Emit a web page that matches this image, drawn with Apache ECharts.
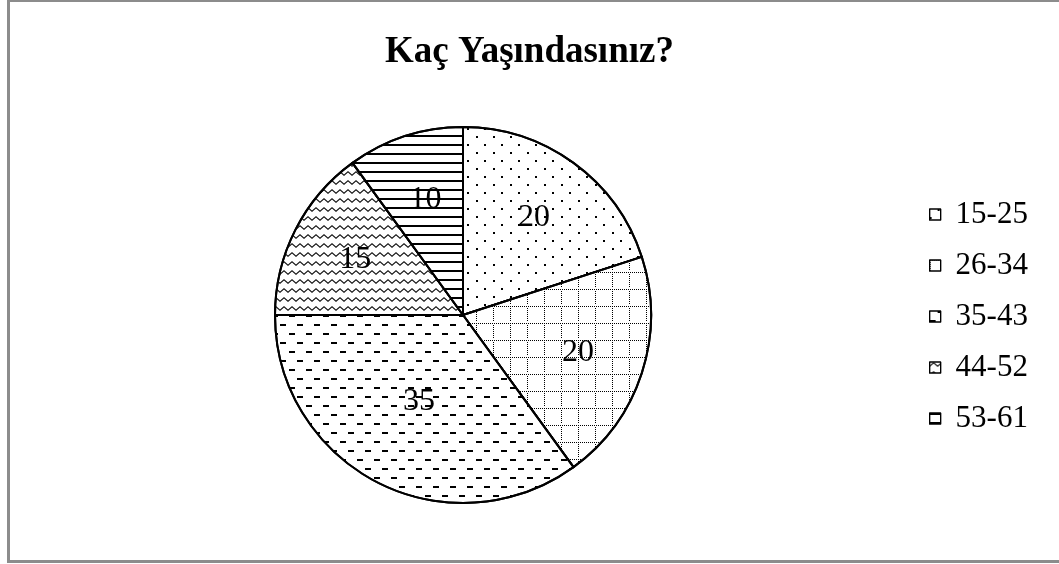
<!DOCTYPE html>
<html>
<head>
<meta charset="utf-8">
<script src="https://cdn.jsdelivr.net/npm/echarts@6/dist/echarts.min.js"></script>
<style>
  html, body { margin: 0; padding: 0; background: #fff; }
  #wrap { position: relative; width: 1059px; height: 564px; overflow: hidden; }
  #chart { position: absolute; left: 0; top: 0; width: 1059px; height: 564px; }
  #frame { position: absolute; left: 7px; top: -1px; width: 1100px; height: 558px; border: 3px solid #8c8c8c; pointer-events: none; }
</style>
</head>
<body>
<div id="wrap">
  <div id="chart"></div>
  <div id="frame"></div>
</div>
<script>
// veriler
const titleText = 'Kaç Yaşındasınız?'
const categories = ['15-25', '26-34', '35-43', '44-52', '53-61']
const values = [20, 20, 35, 15, 10]

const serif = '"Liberation Serif", "Times New Roman", serif'

// her dilim icin desen (Excel benzeri)
const decals = [
  // noktali
  { symbol: 'rect', symbolSize: 1, color: '#000', dashArrayX: [[2, 15], [0, 8, 2, 7]], dashArrayY: [2, 6] },
  // noktali kafes
  {
    symbol: 'rect', symbolSize: 1, color: '#000',
    dashArrayX: [[1, 1], [1, 16], [1, 16], [1, 16], [1, 16], [1, 16], [1, 16], [1, 16]],
    dashArrayY: [1, 1, 1, 1, 1, 1, 1, 1, 1, 1, 1, 1, 1, 1, 1, 2]
  },
  // kesik cizgiler
  { symbol: 'rect', symbolSize: 1, color: '#000', dashArrayX: [[6, 11], [0, 8, 6, 3]], dashArrayY: [1.5, 6.5] },
  // dalga
  {
    symbol: 'path://M0,3.2 L4,0 L8,3.2 L8,4.6 L4,1.4 L0,4.6 Z', symbolSize: 1, symbolKeepAspect: false,
    color: '#111', dashArrayX: [8, 0], dashArrayY: [4.5, 4]
  },
  // yatay cizgiler
  { symbol: 'rect', symbolSize: 1, color: '#000', dashArrayX: [[1, 0], [1, 0]], dashArrayY: [1.6, 6.9] }
]

const pieData = categories.map((name, i) => ({
  name: name,
  value: values[i],
  itemStyle: { color: '#fff', decal: decals[i] },
  // sadece 35 dilimin etiketi burada (merkeze daha yakin)
  label: { show: i === 2 }
}))

const labelData = categories.map((name, i) => ({
  name: name,
  value: values[i],
  label: { show: i !== 2 }
}))

const labelStyle = {
  position: 'inside',
  formatter: '{c}',
  color: '#000',
  fontFamily: serif,
  fontSize: 32
}

const chart = echarts.init(document.getElementById('chart'), null, { renderer: 'canvas' })
chart.setOption({
  animation: false,
  backgroundColor: '#fff',
  title: {
    text: titleText,
    left: 'center',
    top: 29,
    textStyle: { fontFamily: serif, fontSize: 37, fontWeight: 'bold', color: '#000' }
  },
  legend: {
    orient: 'vertical',
    left: 924,
    top: 194,
    itemWidth: 11,
    itemHeight: 11,
    itemGap: 20,
    data: categories,
    icon: 'rect',
    itemStyle: { borderColor: '#000', borderWidth: 1.2 },
    textStyle: { fontFamily: serif, fontSize: 31, color: '#000', padding: [0, 0, 0, 10] }
  },
  series: [
    {
      type: 'pie',
      center: [463, 315],
      radius: 188,
      startAngle: 90,
      clockwise: true,
      silent: true,
      label: labelStyle,
      labelLine: { show: false },
      itemStyle: { borderColor: '#000', borderWidth: 2 },
      emphasis: { disabled: true },
      data: pieData
    },
    {
      // etiket katmani
      type: 'pie',
      center: [463, 315],
      radius: [48, 188],
      startAngle: 90,
      clockwise: true,
      silent: true,
      label: labelStyle,
      labelLine: { show: false },
      itemStyle: { color: 'rgba(0,0,0,0)', borderWidth: 0 },
      emphasis: { disabled: true },
      data: labelData
    }
  ]
})
</script>
</body>
</html>
